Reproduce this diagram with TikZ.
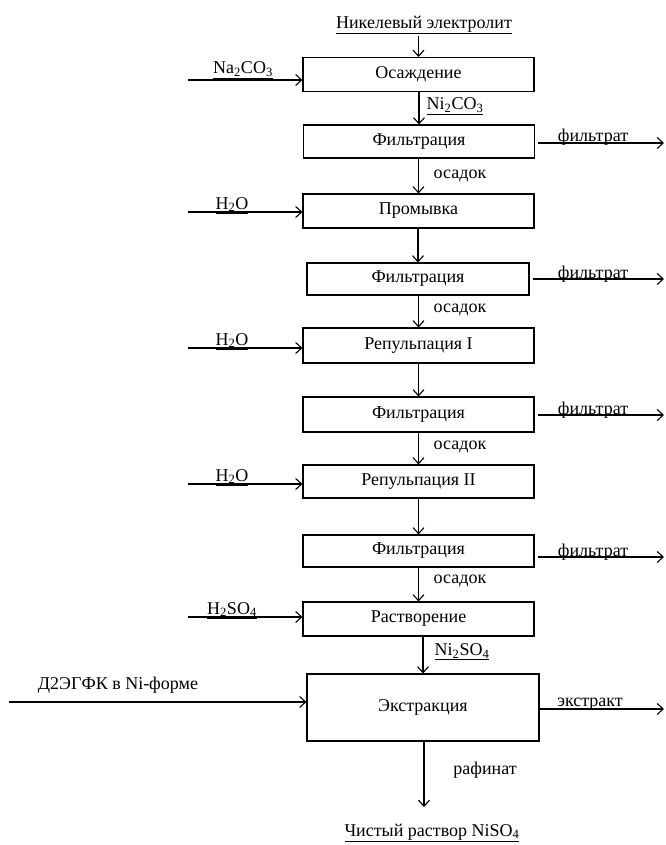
\documentclass[tikz,border=0pt]{standalone}
\usepackage{fontspec}
\setmainfont{Liberation Serif}
\usetikzlibrary{arrows.meta}

\tikzset{
    stage/.style={draw, minimum width=231pt, minimum height=34pt, inner sep=0pt},
    lbl/.style={inner sep=1.5pt},
}

\begin{document}
\begin{tikzpicture}[x=1pt, y=-1pt, >={Straight Barb[length=6pt,width=11pt]},
    line width=1.1pt, font=\fontsize{18}{21}\selectfont]

    \useasboundingbox (0,0) rectangle (665,845);

    % feed
    \node[lbl] (feed) at (424,25) {\underline{Никелевый электролит}};

    % process stages
    \node[stage] (s1) at (418.5,74.5) {Осаждение};
    \node[stage, minimum height=33pt] (s2) at (419,141.5) {Фильтрация};
    \node[stage] (s3) at (418.5,211) {Промывка};
    \node[stage, minimum width=222pt, minimum height=32pt] (s4) at (418,279) {Фильтрация};
    \node[stage, minimum height=35pt] (s5) at (418.5,345.5) {Репульпация I};
    \node[stage, minimum height=35pt] (s6) at (418.5,414.5) {Фильтрация};
    \node[stage, minimum height=33pt] (s7) at (418.5,481.5) {Репульпация II};
    \node[stage, minimum height=32pt] (s8) at (418.5,551) {Фильтрация};
    \node[stage] (s9) at (418.5,619) {Растворение};
    \node[stage, minimum width=232pt, minimum height=67pt] (s10) at (423,707.5) {Экстракция};

    % main flow
    \draw[->] (feed.south -| s1.north) -- (s1.north);
    \foreach \a/\b in {s1/s2, s2/s3, s3/s4, s4/s5, s5/s6, s6/s7, s7/s8, s8/s9, s9/s10} {
        \draw[->] (\a.south -| \b.north) -- (\b.north);
    }

    % labels on the main flow
    \node[lbl] (m1) at (455,106) {\underline{Ni\textsubscript{2}CO\textsubscript{3}}};
    \node[lbl] (m2) at (460,176) {осадок};
    \node[lbl] (m4) at (460,310) {осадок};
    \node[lbl] (m6) at (460,447) {осадок};
    \node[lbl] (m8) at (460,581) {осадок};
    \node[lbl] (m9) at (462,652) {\underline{Ni\textsubscript{2}SO\textsubscript{4}}};

    % inputs from the left
    \foreach \s/\y/\b/\x/\t in {s1/80/74/243/{Na\textsubscript{2}CO\textsubscript{3}},
                                s3/212/209/232/{H\textsubscript{2}O},
                                s5/348/345/232/{H\textsubscript{2}O},
                                s7/484/481/232/{H\textsubscript{2}O},
                                s9/617/614/232/{H\textsubscript{2}SO\textsubscript{4}}} {
        \coordinate (\s-in) at (188,\y);
        \draw[->] (\s-in) -- (\s-in -| \s.west);
        \node[lbl, anchor=base] (\s-lbl) at (\x,\b) {\underline{\t}};
    }

    % filtrate outputs
    \foreach \s/\y in {s2/143, s4/279, s6/415, s8/557} {
        \coordinate (\s-out) at (664,\y);
        \draw[->] ([xshift=3pt]\s.east |- \s-out) -- (\s-out);
        \node[lbl, anchor=base] (\s-lbl) at (593,\y-1) {фильтрат};
    }

    % extraction
    \coordinate (ext-in) at (9,702);
    \draw[->] (ext-in) -- (ext-in -| s10.west);
    \node[lbl, anchor=south] (ext-lbl) at (118,695) {Д2ЭГФК в Ni-форме};

    \coordinate (ext-out) at (664,709);
    \draw[->] (s10.east |- ext-out) -- (ext-out);
    \node[lbl, anchor=base] (extr) at (590,706) {экстракт};

    % raffinate
    \coordinate (raf) at (424,807);
    \draw[->] (s10.south -| raf) -- (raf);
    \node[lbl] (raf-lbl) at (485,770) {рафинат};
    \node[lbl] (prod) at (432,833) {\underline{Чистый раствор NiSO\textsubscript{4}}};

\end{tikzpicture}
\end{document}
